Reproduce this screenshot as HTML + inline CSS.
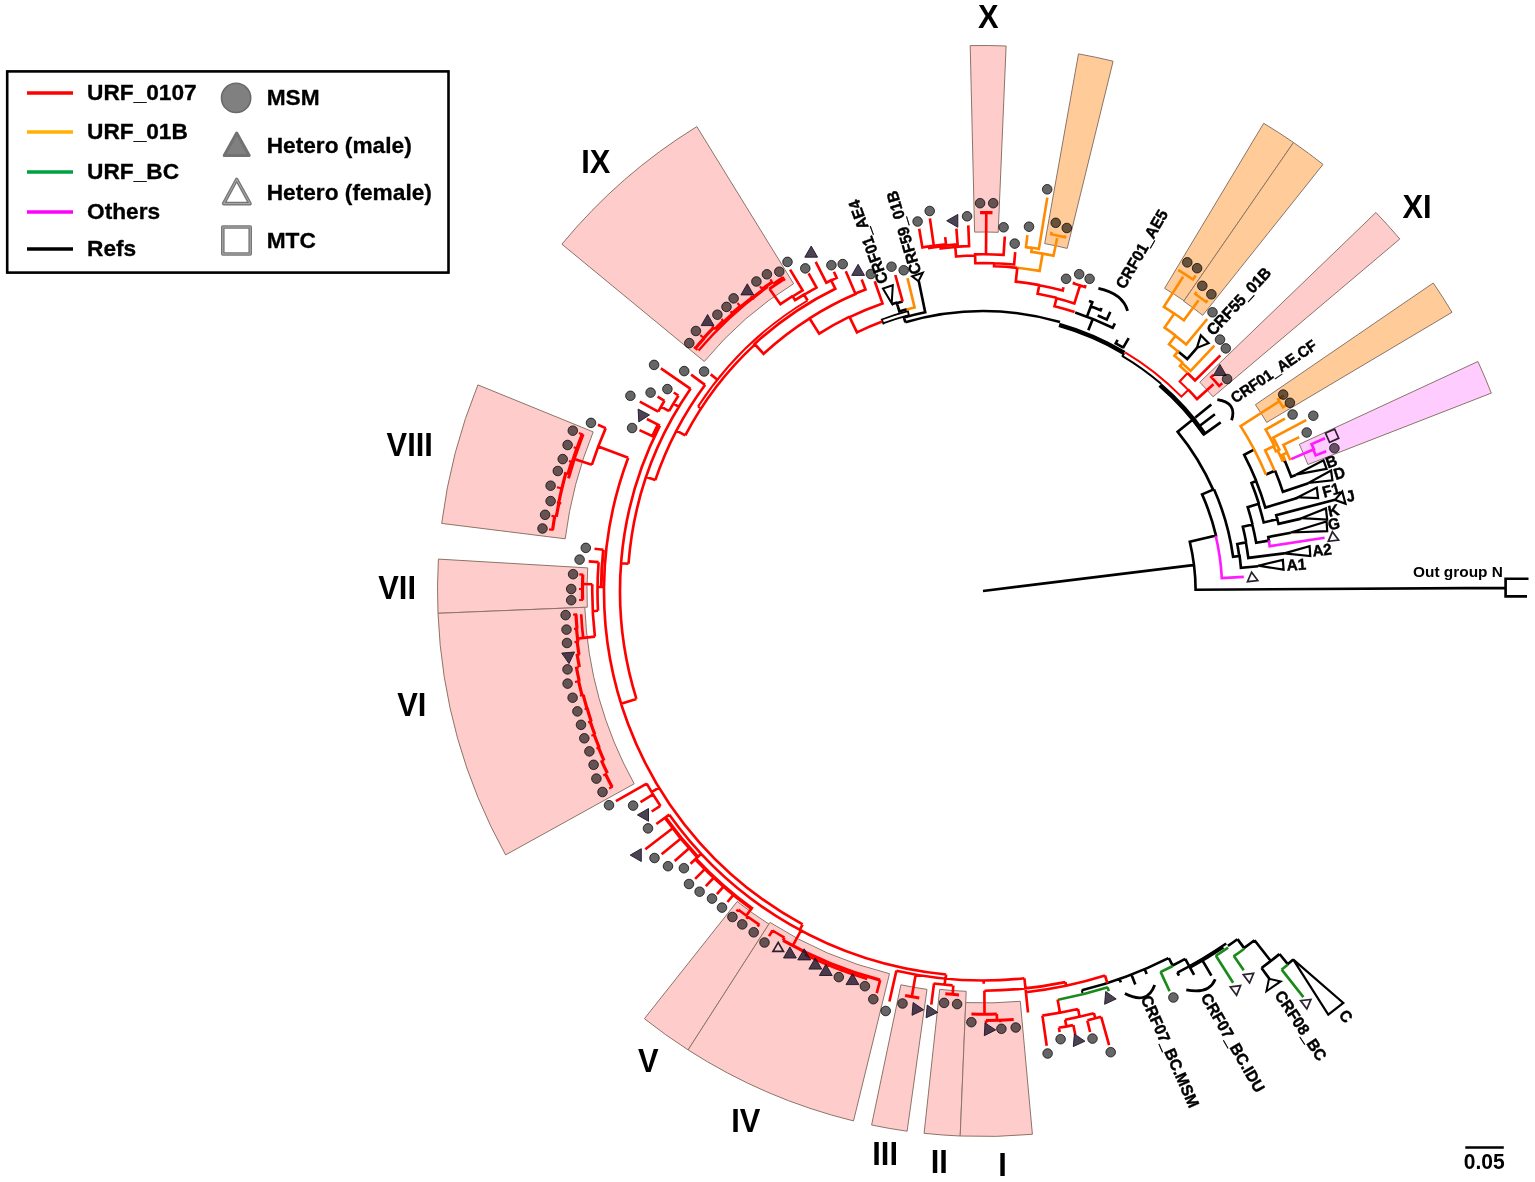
<!DOCTYPE html><html><head><meta charset="utf-8"><title>Phylogenetic tree</title><style>html,body{margin:0;padding:0;background:#fff}svg{display:block}</style></head><body><svg width="1535" height="1182" viewBox="0 0 1535 1182" font-family="'Liberation Sans', Arial, sans-serif" fill="#000">
<g><path d="M974.6 232.1L970.2 45.6A545.5 545.5 0 0 1 1006.1 46L998.2 232.3A359 359 0 0 0 974.6 232.1Z" fill="#ffcccc" stroke="#8c7468" stroke-width="1"/><path d="M1044.7 243.6L1078.5 53.9A545.5 545.5 0 0 1 1113.1 61.2L1067.2 248.4A352.8 352.8 0 0 0 1044.7 243.6Z" fill="#ffcc99" stroke="#8c7468" stroke-width="1"/><path d="M1164.6 288.3L1263.7 123.3A545.5 545.5 0 0 1 1293.5 142.5L1184 300.8A353 353 0 0 0 1164.6 288.3Z" fill="#ffcc99" stroke="#8c7468" stroke-width="1"/><path d="M1183.7 301.2L1293.5 142.5A545.5 545.5 0 0 1 1323 164.4L1202.7 315.3A352.5 352.5 0 0 0 1183.7 301.2Z" fill="#ffcc99" stroke="#8c7468" stroke-width="1"/><path d="M1199.8 382.2L1375.9 212.5A545.5 545.5 0 0 1 1399.8 239L1213 396.8A301 301 0 0 0 1199.8 382.2Z" fill="#ffcccc" stroke="#8c7468" stroke-width="1"/><path d="M1255.4 404.7L1433.3 283A545.5 545.5 0 0 1 1452 312.3L1266.7 422.4A330 330 0 0 0 1255.4 404.7Z" fill="#ffcc99" stroke="#8c7468" stroke-width="1"/><path d="M1299.3 444.3L1477.9 361.5A545.5 545.5 0 0 1 1491.3 393.1L1307.9 464.5A348.7 348.7 0 0 0 1299.3 444.3Z" fill="#ffccff" stroke="#8c7468" stroke-width="1"/><path d="M704.3 361.5L561.9 244.2A545.5 545.5 0 0 1 696.8 126.6L793.6 283.7A361 361 0 0 0 704.3 361.5Z" fill="#ffcccc" stroke="#8c7468" stroke-width="1"/><path d="M565.2 538.8L441.7 523.4A545.5 545.5 0 0 1 477.9 384.9L593.2 431.9A421 421 0 0 0 565.2 538.8Z" fill="#ffcccc" stroke="#8c7468" stroke-width="1"/><path d="M587.7 567.9L438.4 559.1A545.5 545.5 0 0 0 438 613.3L587.3 607.2A396 396 0 0 1 587.7 567.9Z" fill="#ffcccc" stroke="#8c7468" stroke-width="1"/><path d="M584.8 607.3L438 613.3A545.5 545.5 0 0 0 505.6 854.9L634.2 783.8A398.5 398.5 0 0 1 584.8 607.3Z" fill="#ffcccc" stroke="#8c7468" stroke-width="1"/><path d="M737.2 901.5L644.4 1018.7A545.5 545.5 0 0 0 688.1 1049.9L768.9 924.1A396 396 0 0 1 737.2 901.5Z" fill="#ffcccc" stroke="#8c7468" stroke-width="1"/><path d="M770 922.4L688.1 1049.9A545.5 545.5 0 0 0 853.5 1120.9L889.5 973.7A394 394 0 0 1 770 922.4Z" fill="#ffcccc" stroke="#8c7468" stroke-width="1"/><path d="M900.9 984.8L871.6 1125A545.5 545.5 0 0 0 907.1 1131.2L927 989.4A402.3 402.3 0 0 1 900.9 984.8Z" fill="#ffcccc" stroke="#8c7468" stroke-width="1"/><path d="M939.7 989.4L924.1 1133.3A545.5 545.5 0 0 0 960.2 1136L966.2 991.3A400.7 400.7 0 0 1 939.7 989.4Z" fill="#ffcccc" stroke="#8c7468" stroke-width="1"/><path d="M965.7 1002.6L960.2 1136A545.5 545.5 0 0 0 1032.4 1134.3L1020.3 1001.3A412 412 0 0 1 965.7 1002.6Z" fill="#ffcccc" stroke="#8c7468" stroke-width="1"/></g>
<g fill="none" stroke-linecap="butt" stroke-linejoin="miter">
<path stroke="#000" stroke-width="2.65" d="M983 591L1193 565.1M1506.2 587.9L1195.6 589.7A212.6 212.6 0 0 0 1189.8 541.8L1216 535.6A239.5 239.5 0 0 0 1202.1 494.4L1213.1 489.6A251.5 251.5 0 0 0 1177.7 431.8L1195 417.7M1528.5 578.7H1505.6V596.3H1527M1214.1 489.5A252.4 252.4 0 0 1 1233.1 556.8L1239.6 555.9A258.9 258.9 0 0 1 1240.9 567.8L1258.2 566.3M1239.2 556A258.6 258.6 0 0 0 1237.3 544L1245.9 542.4A267.4 267.4 0 0 1 1248.3 557.9L1284.2 553.4M1246.1 542.1A267.7 267.7 0 0 0 1242.8 526.8L1252.3 524.5A277.4 277.4 0 0 1 1256.2 542.8L1268.9 540.6A290.4 290.4 0 0 0 1268.3 537L1290.8 532.7M1252.5 524.3A277.6 277.6 0 0 0 1247.7 507.2L1258.5 503.8A288.9 288.9 0 0 1 1263.7 522.5L1277.4 519.2A303.1 303.1 0 0 1 1278.5 523.8L1301.3 518.6M1277.3 519.4A302.9 302.9 0 0 0 1276.2 515.1L1335 499.8M1259 504A289.4 289.4 0 0 0 1251.5 483L1256.1 481.1A294.4 294.4 0 0 1 1265.3 507.5L1298.1 497.8M1256.3 481.1A294.6 294.6 0 0 0 1244.2 454.8L1253.9 449.7M1265.9 474.5L1275.1 470.7M1275 470.5A315.9 315.9 0 0 1 1282.9 491.8L1308.4 483.3M1283.3 461.6L1284.9 460.9A328.7 328.7 0 0 1 1291.2 476.8L1295.9 475.1M1192.6 419.7A270.8 270.8 0 0 1 1203.9 434.4L1220.7 422.4M1214.9 414.3L1199.5 426M1211.3 404.5L1195.3 417.5M1177.6 351A309 309 0 0 1 1187.2 359.1L1197 347.9M1088.3 330.2L1092.9 318.8M1075.2 312.4A293.4 293.4 0 0 1 1112.7 327.8L1114.9 323.3M1087.3 315.8L1092.4 302.1M1089 301A308.8 308.8 0 0 1 1093.5 302.7M1090 306A304.4 304.4 0 0 1 1100.6 310.2L1101.6 308M1097.7 315.6A298.4 298.4 0 0 1 1106.8 319.5L1110.3 311.9M1102.4 317.5A298.4 298.4 0 0 0 1100.2 316.6M1122.9 348.2L1128.7 338.2M1123 347.5A280.9 280.9 0 0 0 1115.7 343.4L1117.6 339.9M905.4 322.4L903.9 317.5A284.7 284.7 0 0 1 925.2 312.2L918.8 281.3M907 309.3A291.8 291.8 0 0 0 899.4 311.5L896.9 303.2A300.4 300.4 0 0 1 902.7 301.5M897.4 302.6A300.8 300.8 0 0 0 891.8 304.3M1081.8 990.3A411.3 411.3 0 0 0 1168.4 958.1M1119.6 978.9L1120.8 982.4M1131.4 974.6L1135.3 984.6M1144.7 969.2L1146.7 974M1168.8 958L1172.8 965.9M1172.6 965.5A419.8 419.8 0 0 0 1185.2 958.9M1185.2 958.9L1189.1 965.9M1177.3 972.4L1179 975.6M1189.4 966.5L1194.1 974.9M1201.8 959.4L1211.4 975.7M1227.9 945.9A431.2 431.2 0 0 0 1237.4 939.2M1237.5 939.1L1243.8 947.6M1243.9 948.1A442.3 442.3 0 0 0 1254.5 940.2M1254.5 940.2L1270.6 960.8M1261.5 968A468.7 468.7 0 0 0 1279.4 954.1M1261.5 968L1269.3 978.6M1279.5 954L1287.8 964.1M1287.8 964.1A481.8 481.8 0 0 0 1293.3 959.5"/>
<path stroke="#000" stroke-width="4.6" d="M1204.5 434A271.5 271.5 0 0 0 1160 385.1"/>
<path stroke="#000" stroke-width="2.8" d="M1217.3 399.6Q1237.4 402.5 1231.6 420.3M1098.4 288.4Q1122.7 293.6 1127.6 310.8M1124.9 993.6Q1147.3 1005.3 1154.7 984.9M1186.3 989.9Q1209.1 994.5 1215.2 979.2"/>
<path stroke="#000" stroke-width="2.0" d="M1161.1 383.8A273.2 273.2 0 0 0 1122.5 356.1M1122.1 356.8L1124.2 353.2M1081.8 990.3L1082.5 993.1"/>
<path stroke="#000" stroke-width="4.4" d="M1124.3 353A276.8 276.8 0 0 0 1059.1 324.9"/>
<path stroke="#000" stroke-width="2.6" d="M1060 322A279.8 279.8 0 0 0 905.4 322.2M1177.4 972.6A428.3 428.3 0 0 0 1226.2 943.5"/>
<path stroke="#000" stroke-width="1.8" d="M883.7 324.4L881.8 319.5A289.7 289.7 0 0 1 907.9 311.2L908.9 315.1A285.7 285.7 0 0 0 883 323.4"/>
<path stroke="#000" stroke-width="3.6" d="M1189.8 967.2A429.3 429.3 0 0 0 1223.1 946.9"/>
<path stroke="#ff1aff" stroke-width="2.65" d="M1215.7 535.8A239.2 239.2 0 0 1 1221.8 578.1L1243.8 576.9M1268.8 540.3A290.2 290.2 0 0 1 1269.7 546.2L1324.6 537.7M1291.1 459.1L1313.9 449.3A360 360 0 0 0 1311.6 444.1L1325 438.2M1312.9 448.8A359.3 359.3 0 0 1 1315.7 455.4L1326.2 451.2"/>
<path stroke="#1a8a1a" stroke-width="2.65" d="M1058 999.7A415.5 415.5 0 0 0 1107.9 987.3M1107.6 987.4L1108.8 991.2M1172.8 966A420.3 420.3 0 0 1 1160.3 972.1M1160.6 971.9L1169.6 991.2M1228.1 947.7A432.8 432.8 0 0 1 1215.5 956M1215.9 955.8L1233.1 982.8M1244.3 948.7A443 443 0 0 1 1233.5 956.4M1233.9 956.1L1243.7 970.3M1288 964.5A482.2 482.2 0 0 1 1281.5 969.7M1281.7 969.6L1303.4 997.1"/>
<path stroke="#ff8c00" stroke-width="2.65" d="M1266 474.8A305.9 305.9 0 0 0 1240.6 426.1L1279.1 401.4M1283.8 395.6L1278.1 399.4A351.8 351.8 0 0 1 1282.9 407.1L1286.6 404.9M1274.5 470.7A315.4 315.4 0 0 0 1265.2 450.3L1274.3 445.8A325.5 325.5 0 0 0 1265.7 429.6L1284.9 418.6M1273.3 445.9A324.6 324.6 0 0 1 1275.9 451.2L1279.3 449.6A328.3 328.3 0 0 0 1273.3 437.6L1306.2 420.2M1277.7 450.3A326.6 326.6 0 0 1 1282.9 461.6M1285.4 460.8A329.2 329.2 0 0 0 1282.7 454.7L1287.1 452.7A334 334 0 0 0 1283.4 444.9L1299.2 437.1M1287 452.8A334 334 0 0 1 1290.4 460.3M1187.5 372.9A299 299 0 0 0 1179.9 366L1182.2 363.3A302.6 302.6 0 0 1 1190.6 370.9L1214.4 345.7M1183.1 363.1A303.3 303.3 0 0 0 1174.4 355.8L1178 351.4A308.9 308.9 0 0 0 1169 344.3L1175.4 335.9A319.5 319.5 0 0 1 1186.2 344.4L1207.2 319M1175.7 335.6A319.9 319.9 0 0 0 1164.6 327.6L1174.3 313.5A337 337 0 0 1 1183.8 320.3L1198.6 300.3M1196.6 292.1L1195.3 294A365.1 365.1 0 0 1 1206.1 302L1207.6 300M1174.2 313.6A336.9 336.9 0 0 0 1163.9 306.8L1183.1 276.7M1180 269.5L1179.3 270.7A375.6 375.6 0 0 1 1192.9 279.5L1195.7 275.4M1017.3 267.7A325.1 325.1 0 0 1 1039.6 270.9L1042.6 253.6A342.6 342.6 0 0 1 1053.5 255.7L1057.2 237.9M1051.7 231.9L1051.2 234.2A363.3 363.3 0 0 1 1065 237.1L1065.4 235.5M1042.1 253.6A342.5 342.5 0 0 0 1031.3 251.9L1031.9 247.8A346.6 346.6 0 0 1 1038.9 248.9L1047.3 197.6M1032.3 247.9A346.6 346.6 0 0 0 1026 247.1L1027.4 235.2M908.2 310.8L907.8 309.2A291.6 291.6 0 0 1 914.6 307.5L907.5 278.1"/>
<path stroke="#ff0000" stroke-width="2.0" d="M1125.1 352.3A277.8 277.8 0 0 1 1181.4 396.6L1188.2 389.9A287.3 287.3 0 0 0 1179.6 381.5L1187.4 373.2M807.6 300.5A339.4 339.4 0 0 0 698 406.6M701 408.5L698 406.6"/>
<path stroke="#ff0000" stroke-width="2.65" d="M1188 389.4A287.5 287.5 0 0 1 1197 399.1L1213.5 384.3M1213.8 374.8L1211.3 377.1A312.8 312.8 0 0 1 1219.2 385.9L1222.3 383.3M1187.4 373A298.8 298.8 0 0 1 1195.1 380.5L1220.4 355.4M1074.6 312A293.6 293.6 0 0 0 1054.5 306.2L1056.5 298.3A301.8 301.8 0 0 1 1074.4 303.4L1079.8 286.2M1074.4 281.8L1073.9 283.5A320.7 320.7 0 0 1 1085 287L1085.6 285.2M1056.6 297.8A302.3 302.3 0 0 0 1037.6 293.7L1039.2 285.2A310.9 310.9 0 0 1 1062.7 290.5L1063.5 287.3M1039.6 285.1A311.1 311.1 0 0 0 1015.8 281.6L1017.3 267.7M1017.2 267.9A324.9 324.9 0 0 0 994.1 266.3L994.2 263.3A327.9 327.9 0 0 1 1014.1 264.5L1015.2 252.1M994.5 263.3A327.9 327.9 0 0 0 975.3 263.2L975.1 254.4A336.7 336.7 0 0 1 1003.6 254.9L1004.8 236.5M986 254.4L986.3 213M975.6 255.5A335.6 335.6 0 0 0 956.1 256.5L955.3 246.9A345.2 345.2 0 0 1 969.1 246.1L968.3 225.4M955.4 247A345.1 345.1 0 0 0 940.7 248.5L940.4 246A347.7 347.7 0 0 1 957.6 244.3L956.4 228.6M940.7 246.4A347.2 347.2 0 0 0 929.2 248L929 246.5A348.7 348.7 0 0 1 946 244.2L945.2 237.1M928.9 246.4A348.8 348.8 0 0 0 922.4 247.5L919.2 228.8M928.9 246.4A348.8 348.8 0 0 1 933.8 245.6L929.9 218.4M902.7 301.6L895.3 275M882.3 321.6A287.6 287.6 0 0 0 857 332.4L849.6 317.1A304.6 304.6 0 0 1 882.5 303.4L874.7 281.2M849.6 316.6A305.1 305.1 0 0 0 819.2 333.6L809.5 318.3A323.2 323.2 0 0 1 855.5 294L845.8 271.3M854.8 293.8A323.6 323.6 0 0 1 865.5 289.4L861.7 279.6M809.7 318.3A323.2 323.2 0 0 0 763.6 353.8L754.6 344A336.4 336.4 0 0 1 835.3 288.7L831.1 280.3A345.8 345.8 0 0 0 826.3 282.7L815.7 261.9M831.3 280.5A345.6 345.6 0 0 1 836.7 277.9L833.9 271.7M805.1 294.2A346.1 346.1 0 0 1 816.5 287.6L808.6 273.3M805 294A346.3 346.3 0 0 0 795.1 300.2L792.7 296.5A350.6 350.6 0 0 1 802.6 290.4L790.1 269.6M792.9 295.8A351.1 351.1 0 0 0 780.4 304.2L769.6 289M755.3 344.1A335.9 335.9 0 0 0 685.3 435.4M685.3 435.4L676.4 430.7M807.6 300.5L804.3 295.1M718.1 380.3L710.7 374.4M705.2 384.7A346 346 0 0 0 655.3 480.1M705 384.9L691.1 374.6M655.3 480.1L646.3 477M690.7 388.6A355.5 355.5 0 0 0 628.5 563.7M690.6 388.9L660.9 368.4M628.5 563.7L621.1 563.2M678.9 406.8L673.5 403.6M678.5 395.5A361.8 361.8 0 0 0 669 411.2M678.5 395.5L673.7 392.5M669 411.2L661.1 406.6M664.5 400.8A371 371 0 0 0 658.2 411.7M664.5 400.8L657.6 396.7M658.2 411.7L639.8 401.6M659.9 425.6A363 363 0 0 0 636.4 698.9M657.9 424.6A365.2 365.2 0 0 0 652.3 436.1M659.9 425.6L646.9 419M654.3 437L639.5 430.1M636.4 698.9L621.1 703.7M628.2 457.7A379 379 0 0 0 802.7 924.4M628.2 457.7L598.3 446.4M605.7 428.1A411 411 0 0 0 591.9 464.7M605.7 428.1L597.9 424.8M591.9 464.7L574.3 459M604 587L597.5 587M598.6 562.1A385.5 385.5 0 0 0 598 610.8M598.6 562.1L588.7 561.4M603.4 549.8L594.5 548.8M598 610.8L592.7 611.1M592.3 584.2A390.8 390.8 0 0 0 594.9 636.6M592.3 584.2L583.1 584M594.9 636.6L583.5 637.9M581.2 614.2A402.5 402.5 0 0 0 583.2 638M583.5 637.9L576.8 638.7M802.7 924.4L799.7 929.9M669.3 814.7A385.3 385.3 0 0 0 946.1 974.5M659 787.6L651.9 791.9M646.7 783.6A387.6 387.6 0 0 0 660.5 806.1M646.7 783.6L615.9 801.2M653 794.4L640.5 802.1M660.3 805.8L651.7 811.5M669.3 814.7L656.3 824M673 828L645.3 849.2M681.2 838.3L661.6 854.3M689.4 848L674.7 860.9M701.2 853.8L690.5 863.7M705.1 868.9L695.1 878.9M714 877.5L705.8 886.2M723.7 886.3L716.9 894.1M733.6 894.7L727.5 902M751.4 908.5L746.3 915.7M738.4 909.8A401.8 401.8 0 0 0 759.5 924.9M738.1 909.6L736.7 911.5M747.8 916.8L746.4 918.7M758.9 924.5L757.6 926.5M800.9 930.6L792.8 945.7M772.5 930.5A399.5 399.5 0 0 0 784.5 937.7M772.5 930.5L769.1 936.1M784.5 937.7L783 940.3M829 962.9L827.4 966.6M842 968L840.8 971.3M880.2 980.1L876.7 993.2M896.4 970.6L889.4 1001.5M946.1 974.5L945.7 978.5M896.4 970.7A389.5 389.5 0 0 0 1024.4 978.3M915.7 974.6L911.8 996.7M945.3 978.7L944.7 984.7M933.7 983.5A395.6 395.6 0 0 0 952.6 985.4M934 983.5L931.3 1004.7M953.3 985.5L952.7 994.5M983.7 980.5L983.7 983.8M984.4 990.7L984.5 1014.2M996.8 1014L997 1020.3M986 1020.5L986 1023.6M1000.2 1020.2L1000.3 1022.2M1024.4 978.3L1025.9 992.2M1025.9 992.2L1028 1012.5M984.4 990.7A399.7 399.7 0 0 0 1065.4 982.1M1065.4 982.1L1066.2 985.8M1025.9 992.2A403.5 403.5 0 0 0 1105 975.6M1105 975.5L1107.4 983.1M1057.6 999.5L1060 1012.7M1042.3 1015.6A428.7 428.7 0 0 0 1078 1009M1042.4 1015.6L1046.7 1045.8M1078 1009L1079.7 1016.7M1065.1 1019.7A436.5 436.5 0 0 0 1093.8 1013.2M1093.9 1013.2L1095.3 1018.4M1087.4 1020.4A441.9 441.9 0 0 0 1101.1 1016.8M1087.3 1020.4L1090.1 1032M1101.2 1016.8L1109.1 1045.2M1065.1 1019.7L1066.4 1026.4M1058.6 1027.8A443.3 443.3 0 0 0 1073 1025.1M1058.9 1027.8L1059.7 1032.1M1073.3 1025L1075.3 1034.7"/>
<path stroke="#ff0000" stroke-width="3.2" d="M980.1 212.6A378.5 378.5 0 0 1 992.5 212.7M783.1 277.7A371.6 371.6 0 0 0 773.5 284.1M772.2 282.1A374 374 0 0 0 762.1 289.2M762.7 290A372.9 372.9 0 0 0 752.5 297.8M752.2 297.5A373.4 373.4 0 0 0 740.8 306.8M740.3 306.3A374.1 374.1 0 0 0 732.3 313.3M732.7 313.7A373.5 373.5 0 0 0 724.1 321.7M723.3 320.9A374.7 374.7 0 0 0 715 329.1M713.6 327.7A376.7 376.7 0 0 0 703.8 338.1M704 338.4A376.3 376.3 0 0 0 695.4 348.2M582.2 434.4A430.4 430.4 0 0 0 577 448.3M576.9 448.3A430.4 430.4 0 0 0 572.3 462.1M571.6 461.9A431.2 431.2 0 0 0 568 473.9M565.8 473.3A433.5 433.5 0 0 0 561.9 488.4M561.9 488.4A433.4 433.4 0 0 0 558.7 502.8M559 502.9A433.1 433.1 0 0 0 556.3 516.7M554.7 516.5A434.7 434.7 0 0 0 552.6 529.9M582.8 574.6A400.5 400.5 0 0 0 582.6 599.9M576 614.5A407.7 407.7 0 0 0 577 628.7M576.5 628.7A408.2 408.2 0 0 0 577.9 641.7M577.2 641.8A408.9 408.9 0 0 0 579 654.6M577.2 654.8A410.8 410.8 0 0 0 579.4 667.1M576.5 667.7A413.7 413.7 0 0 0 579.2 681M578.6 681.2A414.3 414.3 0 0 0 582 695.2M583.2 694.9A413.1 413.1 0 0 0 587 708.5M587.2 708.5A412.9 412.9 0 0 0 591.2 721.4M590.3 721.7A413.9 413.9 0 0 0 594.8 734.4M594.2 734.7A414.5 414.5 0 0 0 599.2 747.5M598.5 747.7A415.2 415.2 0 0 0 603.9 760.3M601.7 761.2A417.5 417.5 0 0 0 607.4 773.3M605.6 774.2A419.5 419.5 0 0 0 612.1 787M783 940.3A402.5 402.5 0 0 0 880.2 980.1"/>
<path stroke="#ff0000" stroke-width="2.2" d="M784.9 280.5L782.5 276.8M772.8 283L770.3 279.3M762.7 289.9L760 286.3M753.8 299.5L751 296M740.5 306.4L737.5 303M733.5 314.7L730.5 311.3M724.6 322.3L721.5 319M715.1 329.2L711.9 326.1M703.6 338L700.3 335M697.4 349.9L693.9 347M583.1 434.8L578.9 433.1M577.9 448.7L573.7 447.2M573.2 462.4L568.9 461M568.4 474L564 472.8M561.2 488.3L556.9 487.2M561.3 503.3L556.9 502.4M555.9 516.7L551.5 515.9M553.4 530L549 529.4M583.3 574.6L579.3 574.4M583 589L579 589M583.1 599.9L579.1 600M577.1 614.4L573.1 614.6M577.9 628.6L574 628.9M578.5 641.6L574.5 642.1M579.8 654.4L575.8 655.1M578.8 667.2L574.9 668M578.8 681.1L574.9 682M583.8 694.8L579.9 695.8M588.4 708.1L584.6 709.2M591.9 721.2L588.1 722.4M595.1 734.3L591.4 735.7M600.1 747.1L596.4 748.6M604.1 760.2L600.5 761.8M606.8 773.6L603.2 775.4M612.7 786.6L609.2 788.5"/>
<path stroke="#ff0000" stroke-width="3.0" d="M784.2 278.9A370 370 0 0 0 769.2 289M583.1 434.3A429.5 429.5 0 0 0 568.5 478.4M601.2 587A381.8 381.8 0 0 1 603.4 549.8M905.1 995.5A411.9 411.9 0 0 0 919.3 997.9M945.3 993.8A404.6 404.6 0 0 0 959 994.9M971.4 1014A423.2 423.2 0 0 0 996.8 1014M986 1020.5A429.5 429.5 0 0 0 1013.7 1019.4"/>
<path stroke="#ff0000" stroke-width="2.4" d="M767.7 287A372.5 372.5 0 0 0 698.5 350.6"/>
<path stroke="#ff0000" stroke-width="3.6" d="M665.3 817.6A390.2 390.2 0 0 0 697.6 857.1"/>
<path stroke="#ff0000" stroke-width="3.8" d="M695.6 859A393 393 0 0 0 752.6 909.3"/>
<path stroke="#ff0000" stroke-width="2.6" d="M804.8 954.7A405 405 0 0 0 867.3 979.1"/>
</g>
<g><polygon points="1251.6,572.2 1257.8,580.5 1247.5,581.7" fill="none" stroke="#2a2030" stroke-width="1.7"/><polygon points="1258.2,565.7 1282.9,559.9 1283.6,569.6" fill="none" stroke="#000" stroke-width="2.2" stroke-linejoin="miter"/><polygon points="1284.2,553.4 1309.6,546.2 1310.3,556" fill="none" stroke="#000" stroke-width="2.2" stroke-linejoin="miter"/><polygon points="1290.7,532.5 1326.6,521.4 1327.2,531.2" fill="none" stroke="#000" stroke-width="2.2" stroke-linejoin="miter"/><polygon points="1332.4,531.8 1338.6,540.1 1328.3,541.3" fill="none" stroke="#2a2030" stroke-width="1.7"/><polygon points="1301.2,518.2 1325.9,508.4 1327.2,519.5" fill="none" stroke="#000" stroke-width="2.2" stroke-linejoin="miter"/><polygon points="1335,499.9 1342.2,491.5 1345.5,503.8" fill="none" stroke="#000" stroke-width="2.2" stroke-linejoin="miter"/><polygon points="1297.9,497.3 1316.8,487.6 1318.1,498" fill="none" stroke="#000" stroke-width="2.2" stroke-linejoin="miter"/><circle cx="1289.9" cy="402.8" r="4.8" fill="#000" fill-opacity="0.6" stroke="#000" stroke-opacity="0.72" stroke-width="1"/><circle cx="1283.2" cy="394.6" r="4.8" fill="#000" fill-opacity="0.6" stroke="#000" stroke-opacity="0.72" stroke-width="1"/><polygon points="1308.3,483 1331.1,470.6 1332.4,480.4" fill="none" stroke="#000" stroke-width="2.2" stroke-linejoin="miter"/><circle cx="1292.6" cy="414.5" r="4.8" fill="#000" fill-opacity="0.6" stroke="#000" stroke-opacity="0.72" stroke-width="1"/><circle cx="1313.3" cy="415.7" r="4.8" fill="#000" fill-opacity="0.6" stroke="#000" stroke-opacity="0.72" stroke-width="1"/><polygon points="1295.7,474.7 1323.5,460.3 1326.6,468.9" fill="none" stroke="#000" stroke-width="2.2" stroke-linejoin="miter"/><circle cx="1306.7" cy="432.5" r="4.8" fill="#000" fill-opacity="0.6" stroke="#000" stroke-opacity="0.72" stroke-width="1"/><rect x="1327.1" y="430.7" width="10" height="10" fill="none" stroke="#2a2030" stroke-width="1.7" transform="rotate(-24 1332.1 435.7)"/><circle cx="1334.4" cy="448.2" r="4.8" fill="#000" fill-opacity="0.6" stroke="#000" stroke-opacity="0.72" stroke-width="1"/><polygon points="1219.9,364.4 1226.3,375.5 1213.5,375.5" fill="#1e1428" fill-opacity="0.8" stroke="#1e1428" stroke-opacity="0.9" stroke-width="1"/><circle cx="1227.1" cy="379" r="4.8" fill="#000" fill-opacity="0.6" stroke="#000" stroke-opacity="0.72" stroke-width="1"/><circle cx="1225.8" cy="348.4" r="4.8" fill="#000" fill-opacity="0.6" stroke="#000" stroke-opacity="0.72" stroke-width="1"/><circle cx="1220" cy="339.6" r="4.8" fill="#000" fill-opacity="0.6" stroke="#000" stroke-opacity="0.72" stroke-width="1"/><circle cx="1212.5" cy="312.3" r="4.8" fill="#000" fill-opacity="0.6" stroke="#000" stroke-opacity="0.72" stroke-width="1"/><polygon points="1196.9,347.9 1200.8,335.3 1208.6,343.2" fill="none" stroke="#000" stroke-width="2.2" stroke-linejoin="miter"/><circle cx="1202.3" cy="285.8" r="4.8" fill="#000" fill-opacity="0.6" stroke="#000" stroke-opacity="0.72" stroke-width="1"/><circle cx="1211.4" cy="294.3" r="4.8" fill="#000" fill-opacity="0.6" stroke="#000" stroke-opacity="0.72" stroke-width="1"/><circle cx="1187.3" cy="262.4" r="4.8" fill="#000" fill-opacity="0.6" stroke="#000" stroke-opacity="0.72" stroke-width="1"/><circle cx="1197.1" cy="268.2" r="4.8" fill="#000" fill-opacity="0.6" stroke="#000" stroke-opacity="0.72" stroke-width="1"/><circle cx="1079.2" cy="274.2" r="4.8" fill="#000" fill-opacity="0.6" stroke="#000" stroke-opacity="0.72" stroke-width="1"/><circle cx="1089.6" cy="278.8" r="4.8" fill="#000" fill-opacity="0.6" stroke="#000" stroke-opacity="0.72" stroke-width="1"/><circle cx="1066.1" cy="278.8" r="4.8" fill="#000" fill-opacity="0.6" stroke="#000" stroke-opacity="0.72" stroke-width="1"/><circle cx="1055.7" cy="222.8" r="4.8" fill="#000" fill-opacity="0.6" stroke="#000" stroke-opacity="0.72" stroke-width="1"/><circle cx="1066.8" cy="228" r="4.8" fill="#000" fill-opacity="0.6" stroke="#000" stroke-opacity="0.72" stroke-width="1"/><circle cx="1047.2" cy="189.3" r="4.8" fill="#000" fill-opacity="0.6" stroke="#000" stroke-opacity="0.72" stroke-width="1"/><circle cx="1029" cy="226.7" r="4.8" fill="#000" fill-opacity="0.6" stroke="#000" stroke-opacity="0.72" stroke-width="1"/><circle cx="1014.7" cy="243.6" r="4.8" fill="#000" fill-opacity="0.6" stroke="#000" stroke-opacity="0.72" stroke-width="1"/><circle cx="1003.6" cy="227.3" r="4.8" fill="#000" fill-opacity="0.6" stroke="#000" stroke-opacity="0.72" stroke-width="1"/><circle cx="980.1" cy="203.2" r="4.8" fill="#000" fill-opacity="0.6" stroke="#000" stroke-opacity="0.72" stroke-width="1"/><circle cx="993.2" cy="203.2" r="4.8" fill="#000" fill-opacity="0.6" stroke="#000" stroke-opacity="0.72" stroke-width="1"/><circle cx="967.1" cy="216.3" r="4.8" fill="#000" fill-opacity="0.6" stroke="#000" stroke-opacity="0.72" stroke-width="1"/><polygon points="946.7,220.8 957.8,214.4 957.8,227.2" fill="#1e1428" fill-opacity="0.8" stroke="#1e1428" stroke-opacity="0.9" stroke-width="1"/><circle cx="917.6" cy="221.5" r="4.8" fill="#000" fill-opacity="0.6" stroke="#000" stroke-opacity="0.72" stroke-width="1"/><circle cx="929.7" cy="211" r="4.8" fill="#000" fill-opacity="0.6" stroke="#000" stroke-opacity="0.72" stroke-width="1"/><polygon points="918.5,281.3 912.1,276.3 922.8,272.7" fill="none" stroke="#000" stroke-width="2" stroke-linejoin="miter"/><circle cx="903.7" cy="270.3" r="4.8" fill="#000" fill-opacity="0.6" stroke="#000" stroke-opacity="0.72" stroke-width="1"/><circle cx="891.5" cy="266.7" r="4.8" fill="#000" fill-opacity="0.6" stroke="#000" stroke-opacity="0.72" stroke-width="1"/><polygon points="891.7,303.2 882.9,288.6 892.8,285.2" fill="none" stroke="#000" stroke-width="2" stroke-linejoin="miter"/><circle cx="870.9" cy="274" r="4.8" fill="#000" fill-opacity="0.6" stroke="#000" stroke-opacity="0.72" stroke-width="1"/><circle cx="842.7" cy="264.1" r="4.8" fill="#000" fill-opacity="0.6" stroke="#000" stroke-opacity="0.72" stroke-width="1"/><polygon points="858.1,264.3 864.5,275.4 851.7,275.4" fill="#1e1428" fill-opacity="0.8" stroke="#1e1428" stroke-opacity="0.9" stroke-width="1"/><polygon points="811.2,246.1 817.6,257.2 804.8,257.2" fill="#1e1428" fill-opacity="0.8" stroke="#1e1428" stroke-opacity="0.9" stroke-width="1"/><circle cx="831.4" cy="265.2" r="4.8" fill="#000" fill-opacity="0.6" stroke="#000" stroke-opacity="0.72" stroke-width="1"/><circle cx="805.3" cy="268.4" r="4.8" fill="#000" fill-opacity="0.6" stroke="#000" stroke-opacity="0.72" stroke-width="1"/><circle cx="787.5" cy="261.9" r="4.8" fill="#000" fill-opacity="0.6" stroke="#000" stroke-opacity="0.72" stroke-width="1"/><circle cx="779.3" cy="271.7" r="4.8" fill="#000" fill-opacity="0.6" stroke="#000" stroke-opacity="0.72" stroke-width="1"/><circle cx="766.9" cy="274.3" r="4.8" fill="#000" fill-opacity="0.6" stroke="#000" stroke-opacity="0.72" stroke-width="1"/><circle cx="756.4" cy="281.5" r="4.8" fill="#000" fill-opacity="0.6" stroke="#000" stroke-opacity="0.72" stroke-width="1"/><polygon points="747.3,283.8 753.7,294.9 740.9,294.9" fill="#1e1428" fill-opacity="0.8" stroke="#1e1428" stroke-opacity="0.9" stroke-width="1"/><circle cx="733.6" cy="298.4" r="4.8" fill="#000" fill-opacity="0.6" stroke="#000" stroke-opacity="0.72" stroke-width="1"/><circle cx="726.5" cy="306.9" r="4.8" fill="#000" fill-opacity="0.6" stroke="#000" stroke-opacity="0.72" stroke-width="1"/><circle cx="717.4" cy="314.7" r="4.8" fill="#000" fill-opacity="0.6" stroke="#000" stroke-opacity="0.72" stroke-width="1"/><polygon points="707.6,314.5 714,325.6 701.2,325.6" fill="#1e1428" fill-opacity="0.8" stroke="#1e1428" stroke-opacity="0.9" stroke-width="1"/><circle cx="695.9" cy="331" r="4.8" fill="#000" fill-opacity="0.6" stroke="#000" stroke-opacity="0.72" stroke-width="1"/><circle cx="689.3" cy="343.1" r="4.8" fill="#000" fill-opacity="0.6" stroke="#000" stroke-opacity="0.72" stroke-width="1"/><circle cx="704.1" cy="371.5" r="4.8" fill="#000" fill-opacity="0.6" stroke="#000" stroke-opacity="0.72" stroke-width="1"/><circle cx="684.2" cy="371.1" r="4.8" fill="#000" fill-opacity="0.6" stroke="#000" stroke-opacity="0.72" stroke-width="1"/><circle cx="654.1" cy="364.9" r="4.8" fill="#000" fill-opacity="0.6" stroke="#000" stroke-opacity="0.72" stroke-width="1"/><circle cx="667.4" cy="389.1" r="4.8" fill="#000" fill-opacity="0.6" stroke="#000" stroke-opacity="0.72" stroke-width="1"/><circle cx="650.6" cy="392.6" r="4.8" fill="#000" fill-opacity="0.6" stroke="#000" stroke-opacity="0.72" stroke-width="1"/><circle cx="630.4" cy="395.8" r="4.8" fill="#000" fill-opacity="0.6" stroke="#000" stroke-opacity="0.72" stroke-width="1"/><polygon points="649.5,414.9 638.8,421.9 638.1,409.1" fill="#1e1428" fill-opacity="0.8" stroke="#1e1428" stroke-opacity="0.9" stroke-width="1"/><circle cx="632.1" cy="428" r="4.8" fill="#000" fill-opacity="0.6" stroke="#000" stroke-opacity="0.72" stroke-width="1"/><circle cx="591" cy="422.9" r="4.8" fill="#000" fill-opacity="0.6" stroke="#000" stroke-opacity="0.72" stroke-width="1"/><circle cx="572.8" cy="430.7" r="4.8" fill="#000" fill-opacity="0.6" stroke="#000" stroke-opacity="0.72" stroke-width="1"/><circle cx="567.6" cy="445" r="4.8" fill="#000" fill-opacity="0.6" stroke="#000" stroke-opacity="0.72" stroke-width="1"/><circle cx="562.7" cy="459.1" r="4.8" fill="#000" fill-opacity="0.6" stroke="#000" stroke-opacity="0.72" stroke-width="1"/><circle cx="557.8" cy="471" r="4.8" fill="#000" fill-opacity="0.6" stroke="#000" stroke-opacity="0.72" stroke-width="1"/><circle cx="550.6" cy="485.7" r="4.8" fill="#000" fill-opacity="0.6" stroke="#000" stroke-opacity="0.72" stroke-width="1"/><circle cx="550.6" cy="501.1" r="4.8" fill="#000" fill-opacity="0.6" stroke="#000" stroke-opacity="0.72" stroke-width="1"/><circle cx="545.1" cy="514.8" r="4.8" fill="#000" fill-opacity="0.6" stroke="#000" stroke-opacity="0.72" stroke-width="1"/><circle cx="542.5" cy="528.5" r="4.8" fill="#000" fill-opacity="0.6" stroke="#000" stroke-opacity="0.72" stroke-width="1"/><circle cx="585.8" cy="547.9" r="4.8" fill="#000" fill-opacity="0.6" stroke="#000" stroke-opacity="0.72" stroke-width="1"/><circle cx="579.6" cy="559.6" r="4.8" fill="#000" fill-opacity="0.6" stroke="#000" stroke-opacity="0.72" stroke-width="1"/><circle cx="573.1" cy="574.2" r="4.8" fill="#000" fill-opacity="0.6" stroke="#000" stroke-opacity="0.72" stroke-width="1"/><circle cx="571.2" cy="589" r="4.8" fill="#000" fill-opacity="0.6" stroke="#000" stroke-opacity="0.72" stroke-width="1"/><circle cx="571.2" cy="600.2" r="4.8" fill="#000" fill-opacity="0.6" stroke="#000" stroke-opacity="0.72" stroke-width="1"/><circle cx="565.6" cy="615.1" r="4.8" fill="#000" fill-opacity="0.6" stroke="#000" stroke-opacity="0.72" stroke-width="1"/><circle cx="566.5" cy="629.6" r="4.8" fill="#000" fill-opacity="0.6" stroke="#000" stroke-opacity="0.72" stroke-width="1"/><circle cx="567" cy="643" r="4.8" fill="#000" fill-opacity="0.6" stroke="#000" stroke-opacity="0.72" stroke-width="1"/><polygon points="569,663.6 561.7,653.1 574.5,652" fill="#1e1428" fill-opacity="0.8" stroke="#1e1428" stroke-opacity="0.9" stroke-width="1"/><circle cx="567.5" cy="669.4" r="4.8" fill="#000" fill-opacity="0.6" stroke="#000" stroke-opacity="0.72" stroke-width="1"/><circle cx="567.6" cy="683.6" r="4.8" fill="#000" fill-opacity="0.6" stroke="#000" stroke-opacity="0.72" stroke-width="1"/><circle cx="572.6" cy="697.7" r="4.8" fill="#000" fill-opacity="0.6" stroke="#000" stroke-opacity="0.72" stroke-width="1"/><circle cx="577.4" cy="711.4" r="4.8" fill="#000" fill-opacity="0.6" stroke="#000" stroke-opacity="0.72" stroke-width="1"/><circle cx="581" cy="724.8" r="4.8" fill="#000" fill-opacity="0.6" stroke="#000" stroke-opacity="0.72" stroke-width="1"/><circle cx="584.3" cy="738.3" r="4.8" fill="#000" fill-opacity="0.6" stroke="#000" stroke-opacity="0.72" stroke-width="1"/><circle cx="589.4" cy="751.4" r="4.8" fill="#000" fill-opacity="0.6" stroke="#000" stroke-opacity="0.72" stroke-width="1"/><circle cx="593.6" cy="764.8" r="4.8" fill="#000" fill-opacity="0.6" stroke="#000" stroke-opacity="0.72" stroke-width="1"/><circle cx="596.4" cy="778.6" r="4.8" fill="#000" fill-opacity="0.6" stroke="#000" stroke-opacity="0.72" stroke-width="1"/><circle cx="602.5" cy="792" r="4.8" fill="#000" fill-opacity="0.6" stroke="#000" stroke-opacity="0.72" stroke-width="1"/><circle cx="609" cy="805.2" r="4.8" fill="#000" fill-opacity="0.6" stroke="#000" stroke-opacity="0.72" stroke-width="1"/><circle cx="633.1" cy="805.6" r="4.8" fill="#000" fill-opacity="0.6" stroke="#000" stroke-opacity="0.72" stroke-width="1"/><polygon points="637.4,814.9 648.5,808.5 648.5,821.3" fill="#1e1428" fill-opacity="0.8" stroke="#1e1428" stroke-opacity="0.9" stroke-width="1"/><circle cx="648" cy="828.4" r="4.8" fill="#000" fill-opacity="0.6" stroke="#000" stroke-opacity="0.72" stroke-width="1"/><polygon points="630.2,855.1 641.3,848.7 641.3,861.5" fill="#1e1428" fill-opacity="0.8" stroke="#1e1428" stroke-opacity="0.9" stroke-width="1"/><circle cx="654.5" cy="858" r="4.8" fill="#000" fill-opacity="0.6" stroke="#000" stroke-opacity="0.72" stroke-width="1"/><circle cx="668" cy="866.2" r="4.8" fill="#000" fill-opacity="0.6" stroke="#000" stroke-opacity="0.72" stroke-width="1"/><circle cx="683.9" cy="868.2" r="4.8" fill="#000" fill-opacity="0.6" stroke="#000" stroke-opacity="0.72" stroke-width="1"/><circle cx="689" cy="884" r="4.8" fill="#000" fill-opacity="0.6" stroke="#000" stroke-opacity="0.72" stroke-width="1"/><circle cx="699.6" cy="891.7" r="4.8" fill="#000" fill-opacity="0.6" stroke="#000" stroke-opacity="0.72" stroke-width="1"/><circle cx="712" cy="898.6" r="4.8" fill="#000" fill-opacity="0.6" stroke="#000" stroke-opacity="0.72" stroke-width="1"/><circle cx="722" cy="907.6" r="4.8" fill="#000" fill-opacity="0.6" stroke="#000" stroke-opacity="0.72" stroke-width="1"/><circle cx="732.4" cy="917" r="4.8" fill="#000" fill-opacity="0.6" stroke="#000" stroke-opacity="0.72" stroke-width="1"/><circle cx="742.3" cy="924.4" r="4.8" fill="#000" fill-opacity="0.6" stroke="#000" stroke-opacity="0.72" stroke-width="1"/><circle cx="753.7" cy="932.3" r="4.8" fill="#000" fill-opacity="0.6" stroke="#000" stroke-opacity="0.72" stroke-width="1"/><circle cx="764.5" cy="942.5" r="4.8" fill="#000" fill-opacity="0.6" stroke="#000" stroke-opacity="0.72" stroke-width="1"/><polygon points="778.2,942.4 783.4,951.4 773,951.4" fill="none" stroke="#2a2030" stroke-width="1.7"/><polygon points="789.9,946.9 796.3,958 783.5,958" fill="#1e1428" fill-opacity="0.8" stroke="#1e1428" stroke-opacity="0.9" stroke-width="1"/><polygon points="804.2,948.8 810.7,959.9 797.8,959.9" fill="#1e1428" fill-opacity="0.8" stroke="#1e1428" stroke-opacity="0.9" stroke-width="1"/><polygon points="815.3,958 821.7,969.1 808.9,969.1" fill="#1e1428" fill-opacity="0.8" stroke="#1e1428" stroke-opacity="0.9" stroke-width="1"/><polygon points="825.8,964.4 832.2,975.5 819.4,975.5" fill="#1e1428" fill-opacity="0.8" stroke="#1e1428" stroke-opacity="0.9" stroke-width="1"/><circle cx="838.8" cy="977.1" r="4.8" fill="#000" fill-opacity="0.6" stroke="#000" stroke-opacity="0.72" stroke-width="1"/><polygon points="852.5,973.5 858.9,984.6 846,984.6" fill="#1e1428" fill-opacity="0.8" stroke="#1e1428" stroke-opacity="0.9" stroke-width="1"/><circle cx="864.9" cy="986.2" r="4.8" fill="#000" fill-opacity="0.6" stroke="#000" stroke-opacity="0.72" stroke-width="1"/><circle cx="873.3" cy="999.2" r="4.8" fill="#000" fill-opacity="0.6" stroke="#000" stroke-opacity="0.72" stroke-width="1"/><circle cx="885.7" cy="1011" r="4.8" fill="#000" fill-opacity="0.6" stroke="#000" stroke-opacity="0.72" stroke-width="1"/><circle cx="902.5" cy="1003.5" r="4.8" fill="#000" fill-opacity="0.6" stroke="#000" stroke-opacity="0.72" stroke-width="1"/><polygon points="923.6,1009.8 912,1015.3 913.1,1002.5" fill="#1e1428" fill-opacity="0.8" stroke="#1e1428" stroke-opacity="0.9" stroke-width="1"/><polygon points="937.7,1012.4 926.1,1017.8 927.2,1005" fill="#1e1428" fill-opacity="0.8" stroke="#1e1428" stroke-opacity="0.9" stroke-width="1"/><circle cx="944.1" cy="1002.9" r="4.8" fill="#000" fill-opacity="0.6" stroke="#000" stroke-opacity="0.72" stroke-width="1"/><circle cx="957.1" cy="1004.1" r="4.8" fill="#000" fill-opacity="0.6" stroke="#000" stroke-opacity="0.72" stroke-width="1"/><circle cx="971.4" cy="1022.2" r="4.8" fill="#000" fill-opacity="0.6" stroke="#000" stroke-opacity="0.72" stroke-width="1"/><polygon points="995.7,1029.9 984.3,1035.7 985,1022.9" fill="#1e1428" fill-opacity="0.8" stroke="#1e1428" stroke-opacity="0.9" stroke-width="1"/><circle cx="1001.4" cy="1028.8" r="4.8" fill="#000" fill-opacity="0.6" stroke="#000" stroke-opacity="0.72" stroke-width="1"/><circle cx="1015.7" cy="1027.5" r="4.8" fill="#000" fill-opacity="0.6" stroke="#000" stroke-opacity="0.72" stroke-width="1"/><polygon points="1116.2,998.9 1104.6,1004.3 1105.7,991.5" fill="#1e1428" fill-opacity="0.8" stroke="#1e1428" stroke-opacity="0.9" stroke-width="1"/><circle cx="1047.6" cy="1053.5" r="4.8" fill="#000" fill-opacity="0.6" stroke="#000" stroke-opacity="0.72" stroke-width="1"/><circle cx="1092.5" cy="1038.6" r="4.8" fill="#000" fill-opacity="0.6" stroke="#000" stroke-opacity="0.72" stroke-width="1"/><circle cx="1110.7" cy="1052.2" r="4.8" fill="#000" fill-opacity="0.6" stroke="#000" stroke-opacity="0.72" stroke-width="1"/><circle cx="1060.6" cy="1039.2" r="4.8" fill="#000" fill-opacity="0.6" stroke="#000" stroke-opacity="0.72" stroke-width="1"/><polygon points="1084.9,1041.2 1073.3,1046.6 1074.4,1033.9" fill="#1e1428" fill-opacity="0.8" stroke="#1e1428" stroke-opacity="0.9" stroke-width="1"/><circle cx="1173.4" cy="997.5" r="4.8" fill="#000" fill-opacity="0.6" stroke="#000" stroke-opacity="0.72" stroke-width="1"/><polygon points="1236.6,995.2 1230.3,986.9 1240.6,985.6" fill="none" stroke="#2a2030" stroke-width="1.7"/><polygon points="1249.6,982.9 1243.3,974.6 1253.6,973.3" fill="none" stroke="#2a2030" stroke-width="1.7"/><polygon points="1269,978.8 1280.7,981.4 1266.4,991.2" fill="none" stroke="#000" stroke-width="2" stroke-linejoin="miter"/><polygon points="1306.9,1008.9 1300.6,1000.6 1310.9,999.4" fill="none" stroke="#2a2030" stroke-width="1.7"/><polygon points="1293.1,959.3 1343.3,1002.9 1328.3,1014.7" fill="none" stroke="#000" stroke-width="2.2" stroke-linejoin="miter"/></g>
<g><path d="M1465.3 1147.5H1503.8" stroke="#000" stroke-width="2.6" fill="none"/><rect x="7.2" y="71.4" width="441.3" height="201.2" fill="#fff" stroke="#000" stroke-width="2.6"/><path d="M27 93H73" stroke="#ff0000" stroke-width="3.4" fill="none"/><path d="M27 132H73" stroke="#ffb000" stroke-width="3.4" fill="none"/><path d="M27 172H73" stroke="#00a040" stroke-width="3.4" fill="none"/><path d="M27 212H73" stroke="#ff00ff" stroke-width="3.4" fill="none"/><path d="M27 249H73" stroke="#000" stroke-width="3.4" fill="none"/><circle cx="236.1" cy="97.9" r="14.6" fill="#808080" stroke="#6a6a6a" stroke-width="1.6"/><polygon points="236.7,133 249.2,155.4 224.2,155.4" fill="#808080" stroke="#727272" stroke-width="3" stroke-linejoin="round"/><polygon points="236.7,179.5 250,203.6 223.6,203.6" fill="#fff" stroke="#767676" stroke-width="3.6" stroke-linejoin="round"/><polygon points="236.7,179.5 250,203.6 223.6,203.6" fill="none" stroke="#fff" stroke-opacity="0.45" stroke-width="0.9" stroke-linejoin="round"/><rect x="222.8" y="227" width="27.4" height="27" fill="#fff" stroke="#767676" stroke-width="3.6" stroke-linejoin="round"/><rect x="222.8" y="227" width="27.4" height="27" fill="none" stroke="#fff" stroke-opacity="0.45" stroke-width="0.9"/></g>
<g><text transform="translate(988.3 28) scale(0.955 1)" font-size="32.3" font-weight="bold" text-anchor="middle">X</text><text transform="translate(1417 217.7) scale(0.955 1)" font-size="32.3" font-weight="bold" text-anchor="middle">XI</text><text transform="translate(595.8 173.3) scale(0.955 1)" font-size="32.3" font-weight="bold" text-anchor="middle">IX</text><text transform="translate(409.7 455.7) scale(0.955 1)" font-size="32.3" font-weight="bold" text-anchor="middle">VIII</text><text transform="translate(397.1 599.4) scale(0.955 1)" font-size="32.3" font-weight="bold" text-anchor="middle">VII</text><text transform="translate(411.8 716.2) scale(0.955 1)" font-size="32.3" font-weight="bold" text-anchor="middle">VI</text><text transform="translate(648.4 1071.8) scale(0.955 1)" font-size="32.3" font-weight="bold" text-anchor="middle">V</text><text transform="translate(745.7 1131.8) scale(0.955 1)" font-size="32.3" font-weight="bold" text-anchor="middle">IV</text><text transform="translate(885.1 1165) scale(0.955 1)" font-size="32.3" font-weight="bold" text-anchor="middle">III</text><text transform="translate(939.2 1172.7) scale(0.955 1)" font-size="32.3" font-weight="bold" text-anchor="middle">II</text><text transform="translate(1002.5 1175.6) scale(0.955 1)" font-size="32.3" font-weight="bold" text-anchor="middle">I</text><text transform="translate(1484.2 1169) scale(0.94 1)" font-size="22.4" font-weight="bold" text-anchor="middle">0.05</text><text transform="translate(87 100.4)" font-size="22.7" font-weight="bold" text-anchor="start" stroke="#000" stroke-width="0.3" stroke-linejoin="round">URF_0107</text><text transform="translate(87 139.4)" font-size="22.7" font-weight="bold" text-anchor="start" stroke="#000" stroke-width="0.3" stroke-linejoin="round">URF_01B</text><text transform="translate(87 179.4)" font-size="22.7" font-weight="bold" text-anchor="start" stroke="#000" stroke-width="0.3" stroke-linejoin="round">URF_BC</text><text transform="translate(87 219.4)" font-size="22.7" font-weight="bold" text-anchor="start" stroke="#000" stroke-width="0.3" stroke-linejoin="round">Others</text><text transform="translate(87 256.4)" font-size="22.7" font-weight="bold" text-anchor="start" stroke="#000" stroke-width="0.3" stroke-linejoin="round">Refs</text><text transform="translate(266.7 105)" font-size="22.7" font-weight="bold" text-anchor="start" stroke="#000" stroke-width="0.3" stroke-linejoin="round">MSM</text><text transform="translate(266.7 153)" font-size="22.7" font-weight="bold" text-anchor="start" stroke="#000" stroke-width="0.3" stroke-linejoin="round">Hetero (male)</text><text transform="translate(266.7 200.3)" font-size="22.7" font-weight="bold" text-anchor="start" stroke="#000" stroke-width="0.3" stroke-linejoin="round">Hetero (female)</text><text transform="translate(266.7 248)" font-size="22.7" font-weight="bold" text-anchor="start" stroke="#000" stroke-width="0.3" stroke-linejoin="round">MTC</text><text transform="translate(1413 576.5) scale(1.035 1)" font-size="14.9" font-weight="bold" text-anchor="start">Out group N</text><text transform="translate(1287.1 570.7) rotate(-3.8) scale(0.965 1)" font-size="15.8" font-weight="bold" text-anchor="start" stroke="#000" stroke-width="0.45" stroke-linejoin="round">A1</text><text transform="translate(1312.9 556.4) rotate(-6) scale(0.965 1)" font-size="15.8" font-weight="bold" text-anchor="start" stroke="#000" stroke-width="0.45" stroke-linejoin="round">A2</text><text transform="translate(1328.9 530.2) rotate(-10) scale(0.965 1)" font-size="15.8" font-weight="bold" text-anchor="start" stroke="#000" stroke-width="0.45" stroke-linejoin="round">G</text><text transform="translate(1329.2 517.1) rotate(-12) scale(0.965 1)" font-size="15.8" font-weight="bold" text-anchor="start" stroke="#000" stroke-width="0.45" stroke-linejoin="round">K</text><text transform="translate(1347.4 502.3) rotate(-13.7) scale(0.965 1)" font-size="15.8" font-weight="bold" text-anchor="start" stroke="#000" stroke-width="0.45" stroke-linejoin="round">J</text><text transform="translate(1324 497.7) rotate(-15.3) scale(0.965 1)" font-size="15.8" font-weight="bold" text-anchor="start" stroke="#000" stroke-width="0.45" stroke-linejoin="round">F1</text><text transform="translate(1335.7 480.1) rotate(-17.5) scale(0.965 1)" font-size="15.8" font-weight="bold" text-anchor="start" stroke="#000" stroke-width="0.45" stroke-linejoin="round">D</text><text transform="translate(1327.9 468.4) rotate(-19.6) scale(0.965 1)" font-size="15.8" font-weight="bold" text-anchor="start" stroke="#000" stroke-width="0.45" stroke-linejoin="round">B</text><text transform="translate(1235.3 403.8) rotate(-34) scale(0.965 1)" font-size="15.4" font-weight="bold" text-anchor="start" stroke="#000" stroke-width="0.45" stroke-linejoin="round">CRF01_AE.CF</text><text transform="translate(1213.4 336.6) rotate(-47) scale(0.965 1)" font-size="16.1" font-weight="bold" text-anchor="start" stroke="#000" stroke-width="0.45" stroke-linejoin="round">CRF55_01B</text><text transform="translate(1124.5 289.9) rotate(-60) scale(0.965 1)" font-size="16.1" font-weight="bold" text-anchor="start" stroke="#000" stroke-width="0.45" stroke-linejoin="round">CRF01_AE5</text><text transform="translate(888.6 281.3) rotate(-110) scale(0.965 1)" font-size="16.1" font-weight="bold" text-anchor="start" stroke="#000" stroke-width="0.45" stroke-linejoin="round">CRF01_AE4</text><text transform="translate(921.4 272.6) rotate(-106.5) scale(0.965 1)" font-size="16.1" font-weight="bold" text-anchor="start" stroke="#000" stroke-width="0.45" stroke-linejoin="round">CRF59_01B</text><text transform="translate(1140.4 998.6) rotate(66) scale(0.965 1)" font-size="16.1" font-weight="bold" text-anchor="start" stroke="#000" stroke-width="0.45" stroke-linejoin="round">CRF07_BC.MSM</text><text transform="translate(1200.3 997.2) rotate(60) scale(0.965 1)" font-size="16.1" font-weight="bold" text-anchor="start" stroke="#000" stroke-width="0.45" stroke-linejoin="round">CRF07_BC.IDU</text><text transform="translate(1274 995.2) rotate(56.5) scale(0.965 1)" font-size="16.1" font-weight="bold" text-anchor="start" stroke="#000" stroke-width="0.45" stroke-linejoin="round">CRF08_BC</text><text transform="translate(1338 1015.5) rotate(50) scale(0.965 1)" font-size="16.1" font-weight="bold" text-anchor="start" stroke="#000" stroke-width="0.45" stroke-linejoin="round">C</text></g>
</svg></body></html>
